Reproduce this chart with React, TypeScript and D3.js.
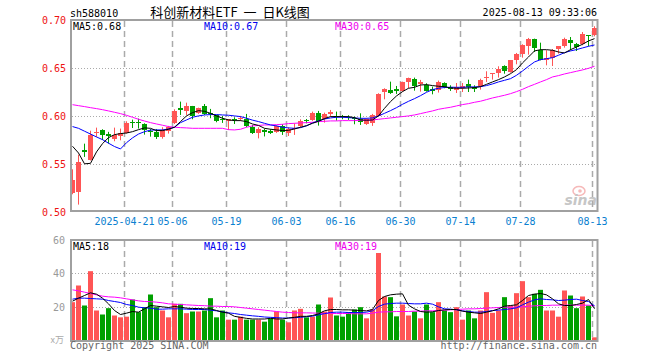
import { useEffect, useRef } from "react";
import * as d3 from "d3";

// trading days shown (2025)
const dates = [
  "04-08", "04-09", "04-10", "04-11", "04-14", "04-15", "04-16", "04-17", "04-18", "04-21",
  "04-22", "04-23", "04-24", "04-25", "04-28", "04-29", "04-30",
  "05-06", "05-07", "05-08", "05-09", "05-12", "05-13", "05-14", "05-15", "05-16", "05-19",
  "05-20", "05-21", "05-22", "05-23", "05-26", "05-27", "05-28", "05-29", "05-30",
  "06-03", "06-04", "06-05", "06-06", "06-09", "06-10", "06-11", "06-12", "06-13", "06-16",
  "06-17", "06-18", "06-19", "06-20", "06-23", "06-24", "06-25", "06-26", "06-27", "06-30",
  "07-01", "07-02", "07-03", "07-04", "07-07", "07-08", "07-09", "07-10", "07-11", "07-14",
  "07-15", "07-16", "07-17", "07-18", "07-21", "07-22", "07-23", "07-24", "07-25", "07-28",
  "07-29", "07-30", "07-31", "08-01", "08-04", "08-05", "08-06", "08-07", "08-08", "08-11",
  "08-12", "08-13",
];

const opens = [
  0.5202, 0.5212, 0.5646, 0.5545, 0.5826, 0.5861, 0.5812, 0.5767, 0.5795, 0.583,
  0.5936, 0.5941, 0.5924, 0.5844, 0.5837, 0.5785, 0.5844, 0.5927, 0.6083, 0.6056,
  0.6108, 0.6031, 0.6108, 0.6035, 0.6014, 0.5975, 0.5955, 0.597, 0.5969, 0.5972,
  0.5886, 0.583, 0.5858, 0.5844, 0.5837, 0.5896, 0.5823, 0.5868, 0.59, 0.5962,
  0.5962, 0.6038, 0.5969, 0.6025, 0.6004, 0.6004, 0.5997, 0.5986, 0.5969, 0.592,
  0.5927, 0.6004, 0.6257, 0.6274, 0.6285, 0.6264, 0.6361, 0.6389, 0.6333, 0.6326,
  0.6281, 0.6274, 0.6344, 0.6306, 0.6271, 0.6295, 0.634, 0.6306, 0.6316, 0.64,
  0.6444, 0.6451, 0.6521, 0.6462, 0.6583, 0.6653, 0.6733, 0.6809, 0.6688, 0.659,
  0.6611, 0.6705, 0.6729, 0.6792, 0.6757, 0.675, 0.6844, 0.6844,
];
const highs = [
  0.5448, 0.56, 0.5715, 0.585, 0.5882, 0.5865, 0.5838, 0.5882, 0.5872, 0.5948,
  0.5965, 0.5976, 0.5927, 0.5868, 0.5868, 0.5886, 0.59, 0.6073, 0.6153, 0.6142,
  0.6108, 0.609, 0.6128, 0.6077, 0.6014, 0.6004, 0.5972, 0.599, 0.6004, 0.6025,
  0.591, 0.5886, 0.5872, 0.5865, 0.5906, 0.5917, 0.5886, 0.5927, 0.5969, 0.5972,
  0.6049, 0.6056, 0.6038, 0.6066, 0.6049, 0.6014, 0.6011, 0.5997, 0.6031, 0.5979,
  0.6025, 0.624, 0.6292, 0.6361, 0.6316, 0.6361, 0.6403, 0.6403, 0.6379, 0.6344,
  0.6309, 0.6372, 0.6354, 0.6323, 0.6347, 0.6347, 0.6382, 0.6323, 0.6392, 0.6469,
  0.6451, 0.6521, 0.6531, 0.6583, 0.666, 0.675, 0.6816, 0.6809, 0.6767, 0.6688,
  0.6701, 0.6729, 0.6819, 0.6826, 0.6764, 0.6878, 0.6844, 0.6938,
];
const lows = [
  0.5188, 0.508, 0.5577, 0.554, 0.5785, 0.5753, 0.5715, 0.574, 0.575, 0.582,
  0.5878, 0.5872, 0.5809, 0.5788, 0.5764, 0.5767, 0.582, 0.592, 0.6014, 0.6014,
  0.5969, 0.6025, 0.6014, 0.598, 0.5938, 0.5931, 0.5858, 0.592, 0.5952, 0.5886,
  0.5816, 0.577, 0.579, 0.5816, 0.5827, 0.5806, 0.5795, 0.5806, 0.5886, 0.5927,
  0.5952, 0.5903, 0.5934, 0.6004, 0.5955, 0.5969, 0.5962, 0.5917, 0.591, 0.591,
  0.59, 0.5997, 0.6177, 0.6233, 0.6233, 0.6257, 0.6292, 0.6267, 0.6257, 0.6257,
  0.6229, 0.6247, 0.6292, 0.6264, 0.6243, 0.6253, 0.6253, 0.6253, 0.6278, 0.6358,
  0.6382, 0.6403, 0.6444, 0.6455, 0.6542, 0.6611, 0.6642, 0.667, 0.6583, 0.6531,
  0.6524, 0.6653, 0.6715, 0.6688, 0.668, 0.674, 0.6729, 0.6833,
];
const closes = [
  0.534, 0.5525, 0.5629, 0.5804, 0.5837, 0.5809, 0.579, 0.5802, 0.583, 0.5931,
  0.5925, 0.5925, 0.5861, 0.5833, 0.5785, 0.5858, 0.589, 0.6059, 0.607, 0.6111,
  0.6004, 0.609, 0.6025, 0.6025, 0.5952, 0.5969, 0.5972, 0.5959, 0.5986, 0.5903,
  0.583, 0.5872, 0.5837, 0.583, 0.5896, 0.5837, 0.5865, 0.5879, 0.5955, 0.5952,
  0.6038, 0.5955, 0.6025, 0.6049, 0.5997, 0.5997, 0.599, 0.5972, 0.5938, 0.5969,
  0.6014, 0.623, 0.6281, 0.624, 0.6267, 0.6354, 0.6396, 0.632, 0.6361, 0.6267,
  0.6267, 0.6354, 0.6309, 0.6288, 0.6306, 0.6316, 0.6306, 0.6288, 0.6382, 0.641,
  0.6451, 0.6497, 0.6472, 0.6583, 0.6646, 0.674, 0.6802, 0.6712, 0.659, 0.6611,
  0.6694, 0.6729, 0.6809, 0.6764, 0.6722, 0.6854, 0.6837, 0.6924,
];

// volume, 万手
const volumes = [
  22.7, 32.7, 20.7, 41.3, 17.7, 15.3, 19.1, 14.7, 13.6, 14.0,
  24.3, 16.7, 19.7, 27.3, 19.7, 17.7, 13.6, 21.7, 21.7, 16.1,
  17.1, 17.1, 17.7, 25.1, 13.6, 17.7, 12.2, 12.2, 14.0, 12.2,
  12.2, 12.2, 11.0, 13.0, 17.1, 12.2, 10.6, 17.7, 18.7, 13.6,
  14.0, 21.3, 17.1, 25.5, 14.7, 14.0, 16.7, 18.3, 19.7, 13.0,
  18.3, 52.2, 26.1, 25.7, 14.2, 21.3, 14.7, 17.1, 13.0, 21.3,
  16.7, 22.7, 17.7, 16.7, 19.7, 12.2, 17.7, 13.0, 17.7, 28.7,
  16.3, 17.7, 25.7, 20.7, 28.1, 35.3, 25.7, 27.7, 30.1, 17.7,
  17.7, 14.0, 29.7, 26.7, 19.1, 26.1, 20.7, 1.6,
];

// moving averages as drawn on the chart
const ma5 = [
  0.5688, 0.5618, 0.5505, 0.551, 0.5629, 0.5715, 0.5778, 0.5809, 0.582, 0.5826,
  0.584, 0.5861, 0.5879, 0.5875, 0.5851, 0.5851, 0.5865, 0.5886, 0.5945, 0.6004,
  0.6038, 0.6059, 0.6052, 0.6031, 0.6004, 0.598, 0.5962, 0.5955, 0.5955, 0.5945,
  0.592, 0.5905, 0.5875, 0.5865, 0.5858, 0.5851, 0.5854, 0.5868, 0.5886, 0.5903,
  0.5927, 0.5948, 0.5976, 0.5997, 0.5997, 0.5997, 0.5997, 0.5986, 0.5962, 0.5959,
  0.5962, 0.6004, 0.6083, 0.6153, 0.6212, 0.6257, 0.6292, 0.6302, 0.6326, 0.633,
  0.632, 0.6313, 0.6309, 0.6295, 0.6292, 0.6292, 0.6295, 0.6299, 0.6309, 0.6333,
  0.6358, 0.6382, 0.641, 0.6444, 0.6486, 0.6556, 0.6618, 0.6681, 0.6694, 0.6694,
  0.6688, 0.667, 0.666, 0.6694, 0.6722, 0.675, 0.6785, 0.6809,
];
const ma10 = [
  0.5893, 0.5875, 0.5845, 0.5815, 0.5785, 0.5757, 0.572, 0.5685, 0.566, 0.5725,
  0.5775, 0.5815, 0.584, 0.5856, 0.5858, 0.5858, 0.5868, 0.5886, 0.5934, 0.5962,
  0.599, 0.6004, 0.6014, 0.6018, 0.6018, 0.6014, 0.6011, 0.6004, 0.5997, 0.598,
  0.596, 0.5945, 0.5927, 0.591, 0.59, 0.5886, 0.5879, 0.5875, 0.5882, 0.59,
  0.5931, 0.5952, 0.5972, 0.5983, 0.599, 0.599, 0.5986, 0.5983, 0.5979, 0.5979,
  0.5983, 0.6004, 0.6031, 0.6059, 0.609, 0.6125, 0.6156, 0.6184, 0.6215, 0.625,
  0.6278, 0.6292, 0.63, 0.6303, 0.6302, 0.6302, 0.6306, 0.6306, 0.6309, 0.632,
  0.6337, 0.6358, 0.6375, 0.6392, 0.6427, 0.6472, 0.6521, 0.6566, 0.659, 0.66,
  0.6611, 0.6636, 0.6663, 0.6681, 0.6695, 0.6712, 0.6729, 0.6743,
];
const ma30 = [
  0.6121, 0.6111, 0.6101, 0.609, 0.608, 0.6069, 0.6056, 0.6042, 0.6028, 0.601,
  0.599, 0.5969, 0.5951, 0.5934, 0.592, 0.5907, 0.5893, 0.5886, 0.5882, 0.5879,
  0.5875, 0.5875, 0.5875, 0.5875, 0.5875, 0.5875, 0.5861, 0.5858, 0.5865, 0.5886,
  0.59, 0.5905, 0.591, 0.591, 0.5913, 0.5917, 0.5924, 0.5927, 0.5931, 0.5934,
  0.5938, 0.5945, 0.5948, 0.5952, 0.5952, 0.5955, 0.5955, 0.5955, 0.5959, 0.5959,
  0.5962, 0.5969, 0.5976, 0.5983, 0.599, 0.5997, 0.6004, 0.6014, 0.6028, 0.6042,
  0.6056, 0.6073, 0.6084, 0.6094, 0.6108, 0.6122, 0.6132, 0.6146, 0.6157, 0.6174,
  0.6191, 0.6205, 0.6219, 0.6236, 0.6257, 0.6281, 0.6309, 0.6333, 0.6358, 0.6382,
  0.641, 0.6424, 0.6441, 0.6455, 0.6469, 0.6483, 0.65, 0.6521,
];
const volMa5 = [
  23.3, 25.1, 26.7, 28.3, 27.5, 25.1, 21.7, 17.7, 15.3, 16.1,
  17.1, 16.7, 18.7, 20.7, 20.3, 19.9, 19.5, 20.1, 19.7, 19.1,
  18.9, 18.9, 18.7, 18.7, 17.7, 16.7, 16.1, 14.2, 13.6, 13.0,
  12.6, 12.6, 12.6, 13.0, 12.6, 12.6, 13.2, 13.6, 14.2, 14.2,
  14.7, 15.7, 17.5, 18.3, 18.3, 18.1, 18.1, 17.9, 17.7, 17.5,
  18.3, 23.7, 26.1, 27.1, 27.5, 27.7, 20.9, 18.7, 17.1, 16.7,
  16.9, 17.7, 18.1, 18.3, 18.3, 17.3, 16.7, 16.3, 15.9, 16.7,
  17.5, 18.7, 20.3, 20.7, 21.1, 23.7, 26.7, 27.5, 27.9, 27.1,
  24.7, 21.7, 20.7, 20.7, 21.3, 22.1, 24.3, 18.8,
];
const volMa10 = [
  24.5, 25.1, 25.1, 24.9, 24.7, 24.5, 23.7, 23.1, 22.5, 21.3,
  20.7, 19.7, 19.3, 19.1, 18.5, 18.5, 18.7, 18.7, 18.7, 18.5,
  18.3, 18.3, 18.3, 17.9, 17.5, 16.9, 16.3, 15.9, 15.3, 14.9,
  14.5, 14.2, 13.8, 13.6, 13.4, 13.2, 13.2, 13.4, 13.6, 14.0,
  14.3, 15.1, 15.8, 16.5, 16.7, 16.7, 16.5, 16.5, 16.5, 16.7,
  17.5, 20.1, 21.5, 21.9, 22.1, 22.1, 21.9, 21.7, 21.7, 22.1,
  21.5, 19.9, 18.7, 18.5, 18.1, 17.5, 17.1, 16.7, 16.7, 17.1,
  17.7, 17.9, 18.3, 18.7, 19.3, 21.1, 22.7, 24.1, 24.7, 24.3,
  24.1, 23.7, 23.9, 24.3, 24.5, 23.7, 23.1, 20.5,
];
const volMa30 = [
  30.1, 29.5, 28.7, 27.9, 27.1, 26.3, 25.9, 25.7, 25.3, 24.7,
  24.1, 23.5, 23.1, 23.0, 22.7, 22.3, 21.7, 21.5, 21.3, 21.1,
  20.9, 20.7, 20.6, 20.3, 20.3, 20.1, 20.1, 19.9, 19.5, 19.1,
  18.7, 18.3, 17.9, 17.5, 17.1, 16.7, 16.5, 16.3, 16.3, 16.3,
  16.2, 16.1, 16.0, 16.0, 15.9, 15.9, 15.9, 15.7, 15.7, 15.7,
  16.1, 16.7, 16.9, 16.9, 17.1, 17.1, 17.1, 17.3, 17.3, 17.5,
  17.5, 17.7, 17.9, 18.1, 18.3, 18.5, 18.7, 18.7, 18.9, 19.1,
  19.3, 19.5, 19.7, 19.7, 19.7, 19.9, 20.3, 20.5, 20.7, 20.7,
  20.9, 20.9, 20.9, 20.9, 20.9, 20.9, 20.9, 20.5,
];

const tickDates = ["04-21", "05-06", "05-19", "06-03", "06-16", "06-30", "07-14", "07-28", "08-13"];
const tickLabels = ["2025-04-21", "05-06", "05-19", "06-03", "06-16", "06-30", "07-14", "07-28", "08-13"];
const priceTicks = [0.5, 0.55, 0.6, 0.65, 0.7];
const priceGrid = [0.55, 0.6, 0.65];
const volTicks = [20, 40, 60];
const volGrid = [20, 40];

const priceLabels = [
  { text: "MA5:0.68", color: "#000" },
  { text: "MA10:0.67", color: "#0000ee" },
  { text: "MA30:0.65", color: "#ee00ee" },
];
const volLabels = [
  { text: "MA5:18", color: "#000" },
  { text: "MA10:19", color: "#0000ee" },
  { text: "MA30:19", color: "#ee00ee" },
];

export default function App() {
  const svgRef = useRef<SVGSVGElement>(null);

  useEffect(() => {
    document.body.style.margin = "0";
    const svg = d3.select(svgRef.current);
    svg.selectAll("*").remove();

    const mono = "'DejaVu Sans Mono', monospace";
    const red = "#ff5555";
    const green = "#00a000";
    const gridColor = "#aaaaaa";
    const frameColor = "#a0a0a0";

    const x = d3.scaleBand<string>().domain(dates).range([70, 598]);
    const cx = (i: number) => (x(dates[i]) as number) + 2.5;
    const y = d3.scaleLinear().domain([0.5, 0.7]).range([212.3, 20.3]);
    const yv = d3.scaleLinear().domain([0, 60]).range([340, 240]);

    svg.append("rect").attr("width", 660).attr("height", 360).attr("fill", "#fff");

    // header
    svg.append("text").attr("x", 70).attr("y", 17).attr("font-family", mono)
      .attr("font-size", 10).attr("fill", "#000").text("sh588010");
    svg.append("text").attr("x", 230).attr("y", 17).attr("text-anchor", "middle")
      .attr("font-family", "'Noto Sans CJK SC', sans-serif").attr("font-size", 13)
      .attr("fill", "#000").text("科创新材料ETF\u00a0\u00a0一\u00a0\u00a0日K线图");
    svg.append("text").attr("x", 597).attr("y", 16).attr("text-anchor", "end")
      .attr("font-family", mono).attr("font-size", 10).attr("fill", "#000")
      .text("2025-08-13 09:33:06");

    // sina watermark
    const wm = svg.append("g").attr("opacity", 0.55);
    wm.append("ellipse").attr("cx", 579).attr("cy", 191).attr("rx", 6).attr("ry", 4.5)
      .attr("fill", "none").attr("stroke", "#f08080").attr("stroke-width", 1.5);
    wm.append("circle").attr("cx", 580).attr("cy", 191).attr("r", 1.8).attr("fill", "#f08080");
    wm.append("text").attr("x", 597).attr("y", 205).attr("text-anchor", "end")
      .attr("font-family", "'DejaVu Sans', sans-serif").attr("font-size", 14)
      .attr("font-style", "italic").attr("font-weight", "bold").attr("fill", "#999")
      .text("sina");

    // grids
    const grid = svg.append("g");
    grid.selectAll("line.hp").data(priceGrid).join("line")
      .attr("x1", 72).attr("x2", 597)
      .attr("y1", (d) => Math.round(y(d)) + 0.5).attr("y2", (d) => Math.round(y(d)) + 0.5)
      .attr("stroke", gridColor).attr("stroke-dasharray", "1,2");
    grid.selectAll("line.hv").data(volGrid).join("line")
      .attr("x1", 72).attr("x2", 597)
      .attr("y1", (d) => Math.round(yv(d)) + 0.5).attr("y2", (d) => Math.round(yv(d)) + 0.5)
      .attr("stroke", gridColor).attr("stroke-dasharray", "1,2");
    tickDates.forEach((d) => {
      const gx = (x(d) as number) + 0.5;
      grid.append("line").attr("x1", gx).attr("x2", gx).attr("y1", 21).attr("y2", 211)
        .attr("stroke", gridColor).attr("stroke-width", 1.5).attr("stroke-dasharray", "6,4");
      grid.append("line").attr("x1", gx).attr("x2", gx).attr("y1", 241).attr("y2", 340)
        .attr("stroke", gridColor).attr("stroke-width", 1.5).attr("stroke-dasharray", "6,4");
    });

    // candles
    const candles = svg.append("g");
    dates.forEach((d, i) => {
      const up = closes[i] >= opens[i];
      const col = up ? red : green;
      const top = Math.round(y(Math.max(opens[i], closes[i])));
      const bot = Math.round(y(Math.min(opens[i], closes[i])));
      candles.append("line").attr("x1", cx(i)).attr("x2", cx(i))
        .attr("y1", y(highs[i])).attr("y2", y(lows[i])).attr("stroke", col);
      candles.append("rect").attr("x", x(d) as number).attr("y", top)
        .attr("width", 5).attr("height", Math.max(1, bot - top)).attr("fill", col);
    });

    // volume bars
    svg.append("g").selectAll("rect").data(volumes).join("rect")
      .attr("x", (_, i) => x(dates[i]) as number)
      .attr("y", (v) => yv(v)).attr("width", 5).attr("height", (v) => 340 - yv(v))
      .attr("fill", (_, i) => (closes[i] >= opens[i] ? red : green));

    // MA lines
    const drawLine = (vals: number[], scale: d3.ScaleLinear<number, number>, color: string) => {
      const line = d3.line<number>().x((_, i) => cx(i)).y((v) => scale(v));
      svg.append("path").attr("d", line(vals)).attr("fill", "none")
        .attr("stroke", color).attr("stroke-width", 1);
    };
    drawLine(ma30, y, "#ff00ff");
    drawLine(ma10, y, "#0000ff");
    drawLine(ma5, y, "#000");
    drawLine(volMa30, yv, "#ff00ff");
    drawLine(volMa10, yv, "#0000ff");
    drawLine(volMa5, yv, "#000");

    // frames
    const frame = svg.append("g").attr("stroke", frameColor).attr("stroke-width", 2).attr("fill", "none");
    frame.append("path").attr("d", "M71,20H597.5V211H71Z");
    frame.append("path").attr("d", "M71,240H597.5V341H71Z");

    // MA labels
    const labelX = [73, 204, 335];
    priceLabels.forEach((l, i) => {
      svg.append("text").attr("x", labelX[i]).attr("y", 30).attr("font-family", mono)
        .attr("font-size", 10).attr("fill", l.color).text(l.text);
    });
    volLabels.forEach((l, i) => {
      svg.append("text").attr("x", labelX[i]).attr("y", 250).attr("font-family", mono)
        .attr("font-size", 10).attr("fill", l.color).text(l.text);
    });

    // axes labels
    svg.append("g").selectAll("text").data(priceTicks).join("text")
      .attr("x", 66).attr("y", (d) => y(d) + 4).attr("text-anchor", "end")
      .attr("font-family", mono).attr("font-size", 10).attr("fill", "#ee1111")
      .text((d) => d3.format(".2f")(d));
    svg.append("g").selectAll("text").data(volTicks).join("text")
      .attr("x", 65).attr("y", (d) => yv(d) + 4).attr("text-anchor", "end")
      .attr("font-family", mono).attr("font-size", 10).attr("fill", "#999")
      .text((d) => String(d));
    svg.append("text").attr("x", 64).attr("y", 343).attr("text-anchor", "end")
      .attr("font-family", "'Noto Sans CJK SC', sans-serif").attr("font-size", 9)
      .attr("fill", "#aaa").text("x万");
    svg.append("g").selectAll("text").data(tickDates).join("text")
      .attr("x", (d) => (x(d) as number) + 0.5).attr("y", 225).attr("text-anchor", "middle")
      .attr("font-family", mono).attr("font-size", 10).attr("fill", "#0a80d0")
      .text((_, i) => tickLabels[i]);

    // footer
    svg.append("text").attr("x", 70).attr("y", 349).attr("font-family", mono)
      .attr("font-size", 10).attr("fill", "#666").text("Copyright 2025 SINA.COM");
    svg.append("text").attr("x", 597).attr("y", 349).attr("text-anchor", "end")
      .attr("font-family", mono).attr("font-size", 10).attr("fill", "#666")
      .text("http://finance.sina.com.cn");
  }, []);

  return <svg ref={svgRef} width={660} height={360} style={{ display: "block" }} />;
}
